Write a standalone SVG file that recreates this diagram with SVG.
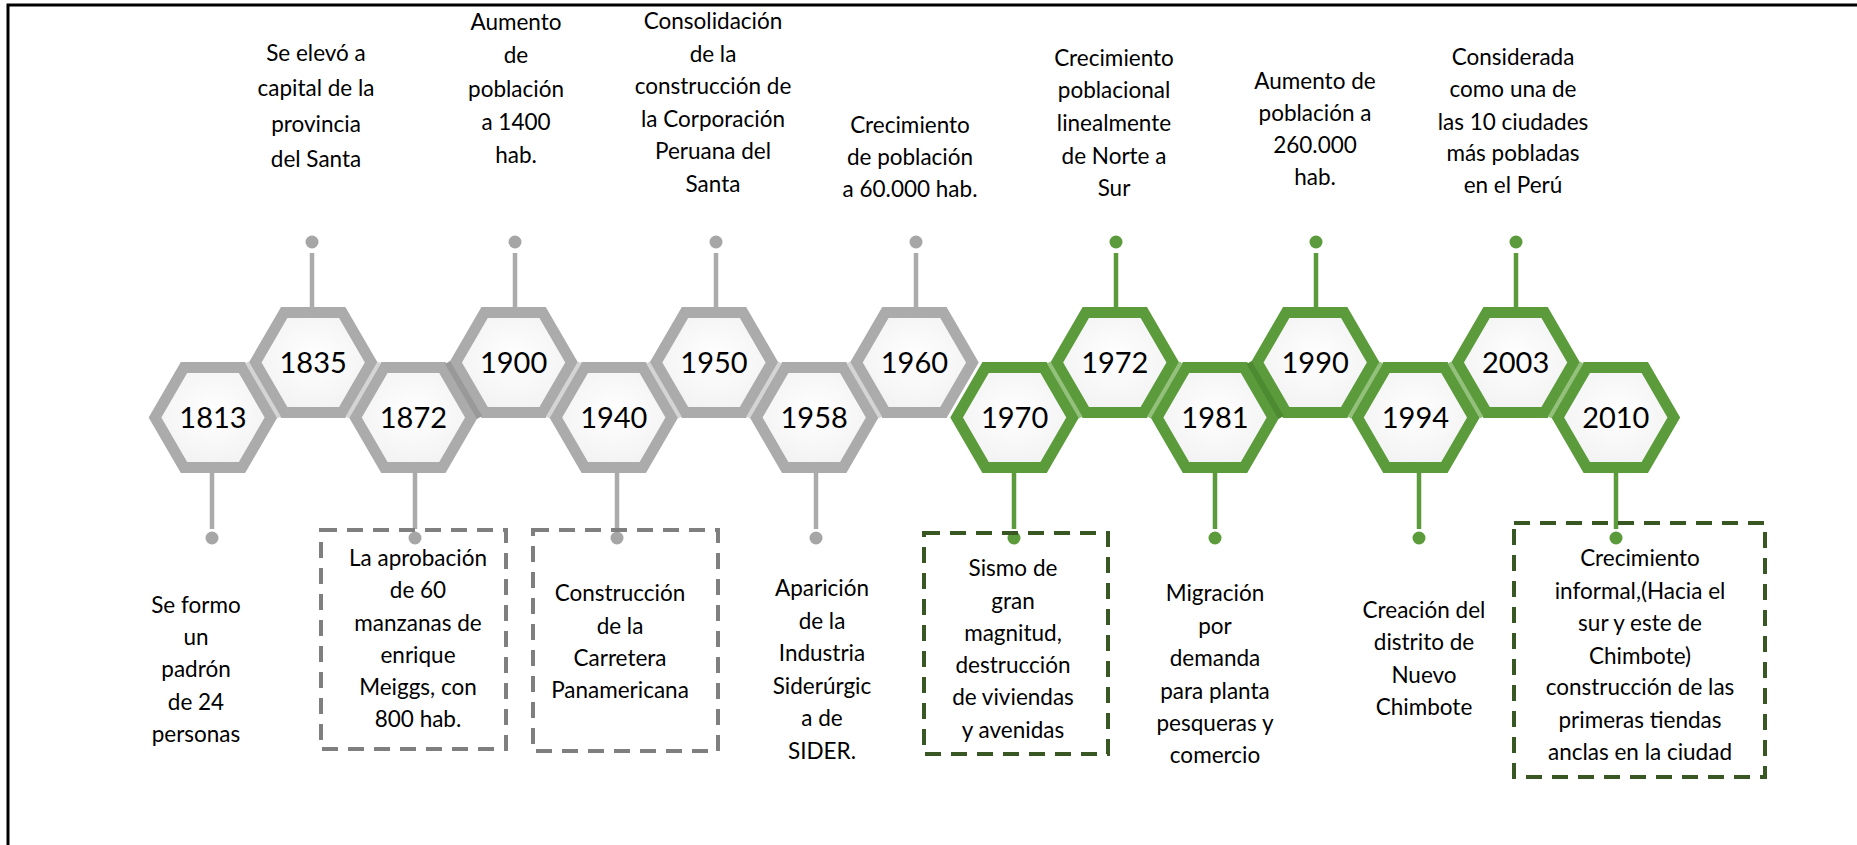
<svg xmlns="http://www.w3.org/2000/svg" width="1857" height="845" viewBox="0 0 1857 845">
<style>
.frame{fill:none;stroke:#000;stroke-width:3}
.hg{fill:url(#fillg);stroke:#ababab;stroke-width:11;stroke-linejoin:miter}
.hv{fill:url(#fillg);stroke:#5b9b3b;stroke-width:11;stroke-linejoin:miter}
.yr{font-family:Lato,'Liberation Sans',sans-serif;font-size:29px;fill:#000;text-anchor:middle}
.tx{font-family:Lato,'Liberation Sans',sans-serif;font-size:22.5px;fill:#000;text-anchor:middle}
.sg{stroke:#ababab;stroke-width:4.5;fill:none}
.sv{stroke:#5b9b3b;stroke-width:4.5;fill:none}
.dg{fill:#a6a6a6}
.dv{fill:#5b9b3b}
.bg{fill:none;stroke:#7f7f7f;stroke-width:4;stroke-dasharray:16 10}
.bv{fill:none;stroke:#385723;stroke-width:4;stroke-dasharray:16 10}
.lg{stroke:#d4d4d4;stroke-width:4}
.lv{stroke:#93c07a;stroke-width:4}
.kg{stroke:#999;stroke-width:6}
.kv{stroke:#4e8a31;stroke-width:6}
</style>
<defs>
<radialGradient id="fillg" cx="0.5" cy="0.45" r="0.6">
<stop offset="0" stop-color="#ffffff"/>
<stop offset="1" stop-color="#f1f1f1"/>
</radialGradient>
<path id="hx" d="M-58,0 L-29,-50 L29,-50 L58,0 L29,50 L-29,50 Z"/>
</defs>
<rect width="1857" height="845" fill="#fff"/>
<path class="frame" d="M8,845 V5 H1857"/>

<g id="hexes">
<g id="n1813"><use href="#hx" x="213" y="417.5" class="hg"/><text class="yr" x="213" y="428">1813</text></g>
<g id="n1835"><use href="#hx" x="313.2" y="362.5" class="hg"/><text class="yr" x="313.2" y="373">1835</text></g>
<g id="n1872"><use href="#hx" x="413.4" y="417.5" class="hg"/><text class="yr" x="413.4" y="428">1872</text></g>
<g id="n1900"><use href="#hx" x="513.6" y="362.5" class="hg"/><text class="yr" x="513.6" y="373">1900</text></g>
<g id="n1940"><use href="#hx" x="613.8" y="417.5" class="hg"/><text class="yr" x="613.8" y="428">1940</text></g>
<g id="n1950"><use href="#hx" x="714" y="362.5" class="hg"/><text class="yr" x="714" y="373">1950</text></g>
<g id="n1958"><use href="#hx" x="814.2" y="417.5" class="hg"/><text class="yr" x="814.2" y="428">1958</text></g>
<g id="n1960"><use href="#hx" x="914.4" y="362.5" class="hg"/><text class="yr" x="914.4" y="373">1960</text></g>
<g id="n1970"><use href="#hx" x="1014.6" y="417.5" class="hv"/><text class="yr" x="1014.6" y="428">1970</text></g>
<g id="n1972"><use href="#hx" x="1114.8" y="362.5" class="hv"/><text class="yr" x="1114.8" y="373">1972</text></g>
<g id="n1981"><use href="#hx" x="1215" y="417.5" class="hv"/><text class="yr" x="1215" y="428">1981</text></g>
<g id="n1990"><use href="#hx" x="1315.2" y="362.5" class="hv"/><text class="yr" x="1315.2" y="373">1990</text></g>
<g id="n1994"><use href="#hx" x="1415.4" y="417.5" class="hv"/><text class="yr" x="1415.4" y="428">1994</text></g>
<g id="n2003"><use href="#hx" x="1515.6" y="362.5" class="hv"/><text class="yr" x="1515.6" y="373">2003</text></g>
<g id="n2010"><use href="#hx" x="1615.8" y="417.5" class="hv"/><text class="yr" x="1615.8" y="428">2010</text></g>
</g>

<g id="joints">
<line class="lg" x1="247.1" y1="362.5" x2="279.1" y2="417.5"/>
<line class="lg" x1="379.3" y1="362.5" x2="347.3" y2="417.5"/>
<line class="kg" x1="447.5" y1="362.5" x2="479.5" y2="417.5"/>
<line class="lg" x1="579.7" y1="362.5" x2="547.7" y2="417.5"/>
<line class="lg" x1="647.9" y1="362.5" x2="679.9" y2="417.5"/>
<line class="lg" x1="780.1" y1="362.5" x2="748.1" y2="417.5"/>
<line class="lg" x1="848.3" y1="362.5" x2="880.3" y2="417.5"/>
<line class="lv" x1="1048.7" y1="362.5" x2="1080.7" y2="417.5"/>
<line class="lv" x1="1180.9" y1="362.5" x2="1148.9" y2="417.5"/>
<line class="kv" x1="1249.1" y1="362.5" x2="1281.1" y2="417.5"/>
<line class="lv" x1="1381.3" y1="362.5" x2="1349.3" y2="417.5"/>
<line class="lv" x1="1449.5" y1="362.5" x2="1481.5" y2="417.5"/>
<line class="lv" x1="1581.7" y1="362.5" x2="1549.7" y2="417.5"/>
</g>

<g id="connectors">
<line class="sg" x1="312" y1="253" x2="312" y2="307"/><circle class="dg" cx="312" cy="242" r="6.5"/>
<line class="sg" x1="515" y1="253" x2="515" y2="307"/><circle class="dg" cx="515" cy="242" r="6.5"/>
<line class="sg" x1="716" y1="253" x2="716" y2="307"/><circle class="dg" cx="716" cy="242" r="6.5"/>
<line class="sg" x1="916" y1="253" x2="916" y2="307"/><circle class="dg" cx="916" cy="242" r="6.5"/>
<line class="sv" x1="1116" y1="253" x2="1116" y2="307"/><circle class="dv" cx="1116" cy="242" r="6.5"/>
<line class="sv" x1="1316" y1="253" x2="1316" y2="307"/><circle class="dv" cx="1316" cy="242" r="6.5"/>
<line class="sv" x1="1516" y1="253" x2="1516" y2="307"/><circle class="dv" cx="1516" cy="242" r="6.5"/>
<line class="sg" x1="212" y1="473" x2="212" y2="529"/><circle class="dg" cx="212" cy="538" r="6.5"/>
<line class="sg" x1="415" y1="473" x2="415" y2="529"/><circle class="dg" cx="415" cy="538" r="6.5"/>
<line class="sg" x1="617" y1="473" x2="617" y2="529"/><circle class="dg" cx="617" cy="538" r="6.5"/>
<line class="sg" x1="816" y1="473" x2="816" y2="529"/><circle class="dg" cx="816" cy="538" r="6.5"/>
<line class="sv" x1="1014" y1="473" x2="1014" y2="529"/><circle class="dv" cx="1014" cy="538" r="6.5"/>
<line class="sv" x1="1215" y1="473" x2="1215" y2="529"/><circle class="dv" cx="1215" cy="538" r="6.5"/>
<line class="sv" x1="1419" y1="473" x2="1419" y2="529"/><circle class="dv" cx="1419" cy="538" r="6.5"/>
<line class="sv" x1="1616" y1="473" x2="1616" y2="529"/><circle class="dv" cx="1616" cy="538" r="6.5"/>
</g>

<g id="t1835"><text class="tx"><tspan x="316" y="61">Se elevó a</tspan><tspan x="316" y="96">capital de la</tspan><tspan x="316" y="132">provincia</tspan><tspan x="316" y="167">del Santa</tspan></text></g>
<g id="t1900"><text class="tx"><tspan x="516" y="30">Aumento</tspan><tspan x="516" y="63">de</tspan><tspan x="516" y="97">población</tspan><tspan x="516" y="130">a 1400</tspan><tspan x="516" y="163">hab.</tspan></text></g>
<g id="t1950"><text class="tx"><tspan x="713" y="29">Consolidación</tspan><tspan x="713" y="61.5">de la</tspan><tspan x="713" y="94">construcción de</tspan><tspan x="713" y="126.5">la Corporación</tspan><tspan x="713" y="159">Peruana del</tspan><tspan x="713" y="191.5">Santa</tspan></text></g>
<g id="t1960"><text class="tx"><tspan x="910" y="133">Crecimiento</tspan><tspan x="910" y="165">de población</tspan><tspan x="910" y="197">a 60.000 hab.</tspan></text></g>
<g id="t1972"><text class="tx"><tspan x="1114" y="66">Crecimiento</tspan><tspan x="1114" y="98">poblacional</tspan><tspan x="1114" y="131">linealmente</tspan><tspan x="1114" y="164">de Norte a</tspan><tspan x="1114" y="196">Sur</tspan></text></g>
<g id="t1990"><text class="tx"><tspan x="1315" y="89">Aumento de</tspan><tspan x="1315" y="121">población a</tspan><tspan x="1315" y="153">260.000</tspan><tspan x="1315" y="185">hab.</tspan></text></g>
<g id="t2003"><text class="tx"><tspan x="1513" y="65">Considerada</tspan><tspan x="1513" y="97">como una de</tspan><tspan x="1513" y="130">las 10 ciudades</tspan><tspan x="1513" y="161">más pobladas</tspan><tspan x="1513" y="193">en el Perú</tspan></text></g>

<g id="t1813"><text class="tx"><tspan x="196" y="613">Se formo</tspan><tspan x="196" y="645">un</tspan><tspan x="196" y="677">padrón</tspan><tspan x="196" y="710">de 24</tspan><tspan x="196" y="742">personas</tspan></text></g>
<g id="t1872"><rect class="bg" x="321" y="530" width="185" height="219"/><text class="tx"><tspan x="418" y="566">La aprobación</tspan><tspan x="418" y="598">de 60</tspan><tspan x="418" y="631">manzanas de</tspan><tspan x="418" y="663">enrique</tspan><tspan x="418" y="695">Meiggs, con</tspan><tspan x="418" y="727">800 hab.</tspan></text></g>
<g id="t1940"><rect class="bg" x="533" y="530" width="185" height="221"/><text class="tx"><tspan x="620" y="601">Construcción</tspan><tspan x="620" y="634">de la</tspan><tspan x="620" y="666">Carretera</tspan><tspan x="620" y="698">Panamericana</tspan></text></g>
<g id="t1958"><text class="tx"><tspan x="822" y="596">Aparición</tspan><tspan x="822" y="629">de la</tspan><tspan x="822" y="661">Industria</tspan><tspan x="822" y="694">Siderúrgic</tspan><tspan x="822" y="726">a de</tspan><tspan x="822" y="759">SIDER.</tspan></text></g>
<g id="t1970"><rect class="bv" x="924" y="533" width="184" height="221"/><text class="tx"><tspan x="1013" y="576">Sismo de</tspan><tspan x="1013" y="609">gran</tspan><tspan x="1013" y="641">magnitud,</tspan><tspan x="1013" y="673">destrucción</tspan><tspan x="1013" y="705">de viviendas</tspan><tspan x="1013" y="738">y avenidas</tspan></text></g>
<g id="t1981"><text class="tx"><tspan x="1215" y="601">Migración</tspan><tspan x="1215" y="634">por</tspan><tspan x="1215" y="666">demanda</tspan><tspan x="1215" y="699">para planta</tspan><tspan x="1215" y="731">pesqueras y</tspan><tspan x="1215" y="763">comercio</tspan></text></g>
<g id="t1994"><text class="tx"><tspan x="1424" y="618">Creación del</tspan><tspan x="1424" y="650">distrito de</tspan><tspan x="1424" y="683">Nuevo</tspan><tspan x="1424" y="715">Chimbote</tspan></text></g>
<g id="t2010"><rect class="bv" x="1514" y="523" width="251" height="254"/><text class="tx"><tspan x="1640" y="566">Crecimiento</tspan><tspan x="1640" y="599">informal,(Hacia el</tspan><tspan x="1640" y="631">sur y este de</tspan><tspan x="1640" y="664">Chimbote)</tspan><tspan x="1640" y="695">construcción de las</tspan><tspan x="1640" y="728">primeras tiendas</tspan><tspan x="1640" y="760">anclas en la ciudad</tspan></text></g>
</svg>
